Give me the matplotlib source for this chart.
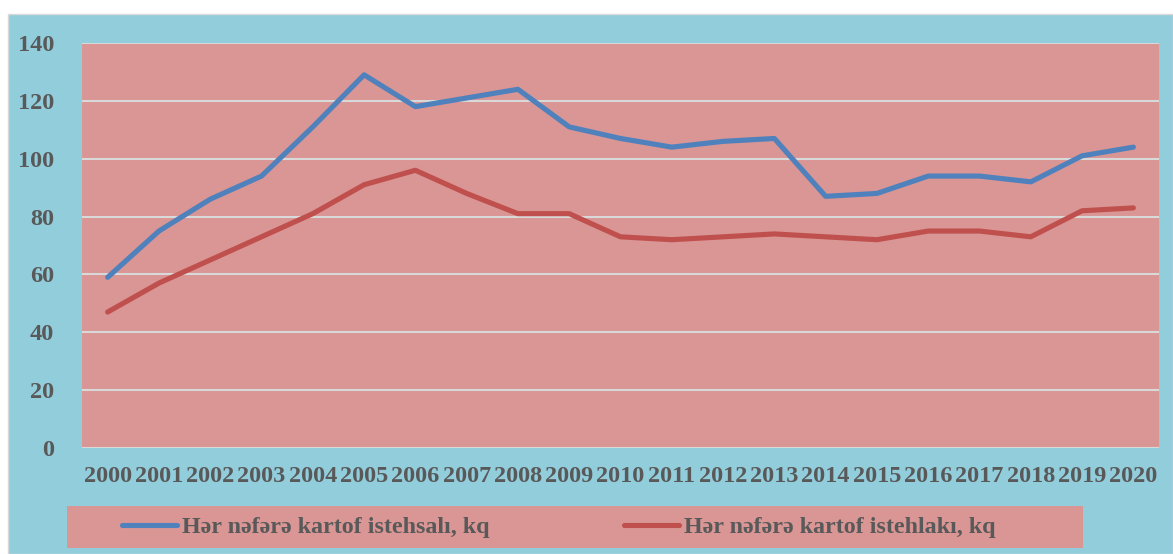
import numpy as np
import matplotlib.pyplot as plt
from matplotlib.patches import Rectangle

years = [str(y) for y in range(2000, 2021)]
production = [59, 75, 86, 94, 111, 129, 118, 121, 124, 111, 107, 104, 106, 107, 87, 88, 94, 94, 92, 101, 104]
consumption = [47, 57, 65, 73, 81, 91, 96, 88, 81, 81, 73, 72, 73, 74, 73, 72, 75, 75, 73, 82, 83]
labels = ["Hər nəfərə kartof istehsalı, kq", "Hər nəfərə kartof istehlakı, kq"]

W, H = 1173, 554
plt.rcParams['font.family'] = ['Liberation Serif', 'DejaVu Serif']
plt.rcParams['font.weight'] = 'bold'

fig = plt.figure(figsize=(W / 100, H / 100), dpi=100, facecolor="white")
# blue chart area background
fig.add_artist(Rectangle((8 / W, 0), (W - 8) / W, (H - 14) / H, transform=fig.transFigure,
                         facecolor="#92CDDC", edgecolor="#D9D9D9", lw=1, zorder=-10))
# legend background strip
fig.add_artist(Rectangle((67 / W, 6 / H), (1083 - 67) / W, 42 / H, transform=fig.transFigure,
                         facecolor="#D99694", edgecolor="none", zorder=-5))

ax = fig.add_axes([82 / W, (H - 448) / H, (1159 - 82) / W, (448 - 43) / H])
ax.set_facecolor("#D99694")
x = np.arange(len(years))
l1, = ax.plot(x, production, color="#4F81BD", lw=3.7, solid_capstyle="round", zorder=3)
l2, = ax.plot(x, consumption, color="#C0504D", lw=3.7, solid_capstyle="round", zorder=3)

ax.set_xlim(-0.5, len(years) - 0.5)
ax.set_ylim(0, 140)
ax.set_yticks(range(0, 141, 20))
ax.set_xticks(x)
ax.set_xticklabels(years)
ax.grid(axis="y", color="#D9D9D9", lw=1.5)
ax.set_axisbelow(True)
for s in ax.spines.values():
    s.set_visible(False)
ax.tick_params(length=0, colors="#595959", labelsize=17.5)
ax.tick_params(axis="x", pad=13)
ax.tick_params(axis="y", pad=20)

for line, lab, xl in [(l1, labels[0], 122), (l2, labels[1], 624)]:
    leg = fig.legend([line], [lab], loc="center left", bbox_to_anchor=(xl / W, 27 / H),
                     frameon=False, handlelength=2.3, handletextpad=0.2, borderpad=0,
                     borderaxespad=0, fontsize=17.3, labelcolor="#595959")

plt.savefig("out.png", dpi=100)
